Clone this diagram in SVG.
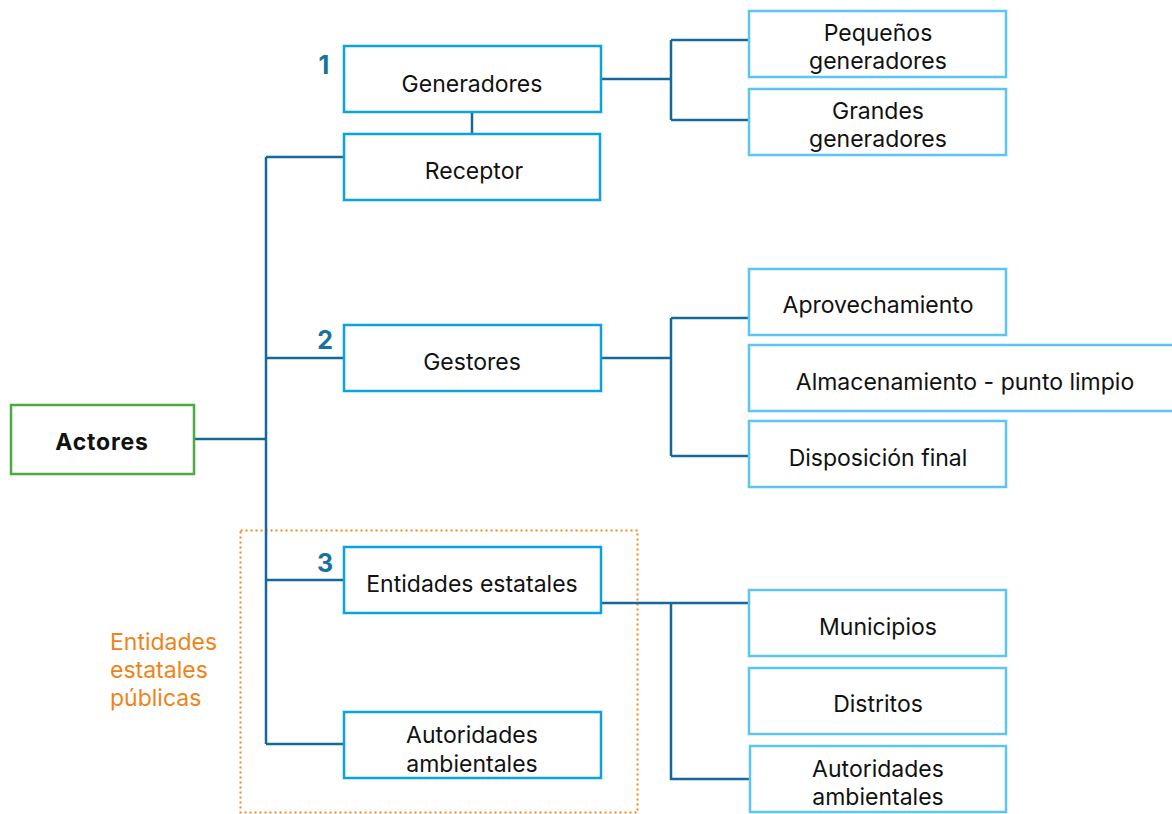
<svg xmlns="http://www.w3.org/2000/svg" width="1172" height="814" viewBox="0 0 1172 814">
  <style>
    .box { fill: #ffffff; stroke: #0aa3e0; stroke-width: 2.5; }
    .leaf { fill: #ffffff; stroke: #5bc6f1; stroke-width: 2.5; }
    .root { fill: #ffffff; stroke: #4aac3c; stroke-width: 2.5; }
    .lbl { font-family: Inter, "Noto Sans", sans-serif; font-size: 23px; fill: #111111; text-anchor: middle; }
    .num { font-family: Inter, "Noto Sans", sans-serif; font-size: 25px; font-weight: 700; fill: #17729e; text-anchor: middle; }
    .conn { fill: none; stroke: #14699a; stroke-width: 2.5; }
  </style>
  <rect width="1172" height="814" fill="#ffffff"/>

  <!-- grouping frame for public state entities -->
  <g id="grupo-publico">
    <rect x="240.5" y="530.5" width="397" height="282" fill="none" stroke="#f08a1c" stroke-width="2" stroke-dasharray="2 3"/>
    <text font-family="Inter, 'Noto Sans', sans-serif" font-size="23" fill="#ef8317">
      <tspan x="110" y="650">Entidades</tspan>
      <tspan x="110" y="678">estatales</tspan>
      <tspan x="110" y="706">públicas</tspan>
    </text>
  </g>

  <g id="connectors">
    <path class="conn" d="M194 439 H266 M266 157 V744 M266 157 H344 M266 358 H344 M266 580 H344 M266 744 H344"/>
    <path class="conn" d="M472 112 V134"/>
    <path class="conn" d="M601 79 H671 M671 40 V120 M671 40 H749 M671 120 H749"/>
    <path class="conn" d="M601 358 H671 M671 318 V456 M671 318 H749 M671 456 H749"/>
    <path class="conn" d="M601 603 H749 M671 603 V779 H750"/>
  </g>

  <g id="actores">
    <rect class="root" x="11" y="405" width="183" height="69"/>
    <text class="lbl" x="102" y="450" font-weight="700" letter-spacing="0.8">Actores</text>
  </g>

  <g id="generadores">
    <rect class="box" x="344" y="46" width="257" height="66"/>
    <text class="lbl" x="472" y="92">Generadores</text>
    <text class="num" x="324" y="74">1</text>
  </g>
  <g id="receptor">
    <rect class="box" x="344" y="134" width="256" height="66"/>
    <text class="lbl" x="474" y="179">Receptor</text>
  </g>
  <g id="gestores">
    <rect class="box" x="344" y="325" width="257" height="66"/>
    <text class="lbl" x="472" y="370">Gestores</text>
    <text class="num" x="325" y="349">2</text>
  </g>
  <g id="entidades-estatales">
    <rect class="box" x="344" y="547" width="257" height="66"/>
    <text class="lbl" x="472" y="592">Entidades estatales</text>
    <text class="num" x="325" y="572">3</text>
  </g>
  <g id="autoridades-ambientales">
    <rect class="box" x="344" y="712" width="257" height="66"/>
    <text class="lbl" x="472" y="743">Autoridades</text>
    <text class="lbl" x="472" y="772">ambientales</text>
  </g>

  <g id="pequenos-generadores">
    <rect class="leaf" x="749" y="11" width="257" height="66"/>
    <text class="lbl" x="878" y="41">Pequeños</text>
    <text class="lbl" x="878" y="69">generadores</text>
  </g>
  <g id="grandes-generadores">
    <rect class="leaf" x="749" y="89" width="257" height="66"/>
    <text class="lbl" x="878" y="119">Grandes</text>
    <text class="lbl" x="878" y="147">generadores</text>
  </g>
  <g id="aprovechamiento">
    <rect class="leaf" x="749" y="269" width="257" height="66"/>
    <text class="lbl" x="878" y="313">Aprovechamiento</text>
  </g>
  <g id="almacenamiento">
    <rect class="leaf" x="749" y="345" width="430" height="66"/>
    <text class="lbl" x="965" y="390">Almacenamiento - punto limpio</text>
  </g>
  <g id="disposicion-final">
    <rect class="leaf" x="749" y="421" width="257" height="66"/>
    <text class="lbl" x="878" y="466">Disposición final</text>
  </g>
  <g id="municipios">
    <rect class="leaf" x="749" y="590" width="257" height="66"/>
    <text class="lbl" x="878" y="635">Municipios</text>
  </g>
  <g id="distritos">
    <rect class="leaf" x="749" y="668" width="257" height="66"/>
    <text class="lbl" x="878" y="712">Distritos</text>
  </g>
  <g id="autoridades-ambientales-2">
    <rect class="leaf" x="750" y="746" width="256" height="66"/>
    <text class="lbl" x="878" y="777">Autoridades</text>
    <text class="lbl" x="878" y="805">ambientales</text>
  </g>
</svg>
